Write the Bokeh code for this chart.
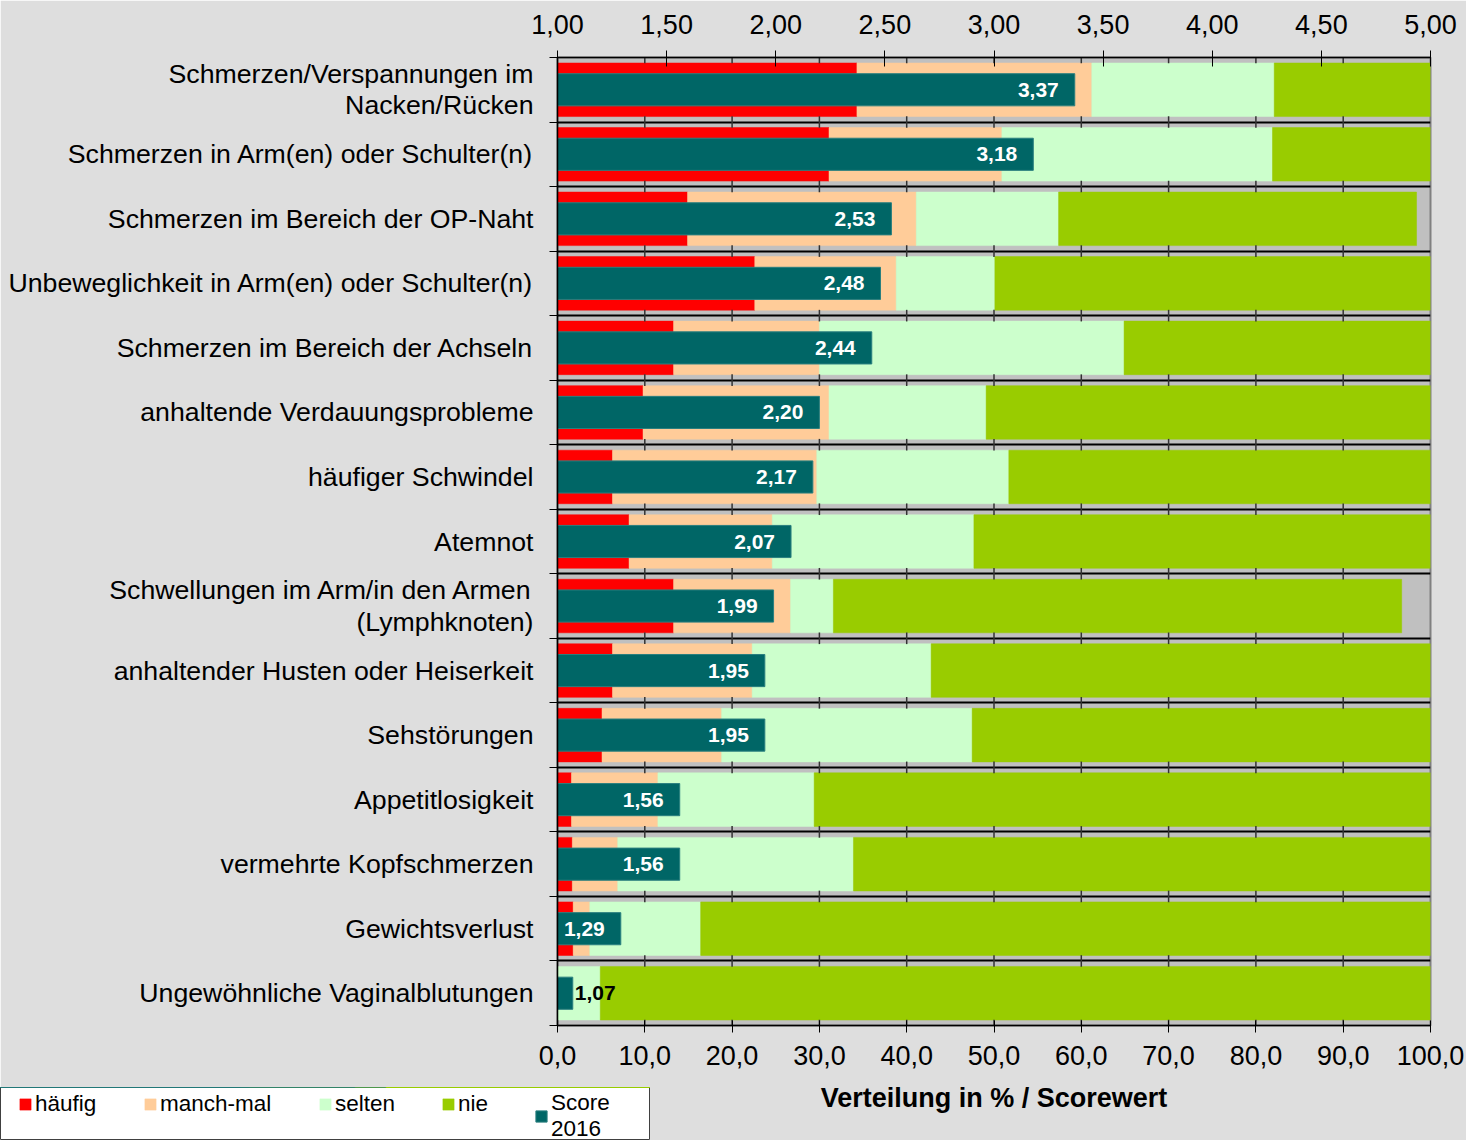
from bokeh.plotting import figure
from bokeh.layouts import column, row
from bokeh.models import (Range1d, LinearAxis, FixedTicker, CustomJSTickFormatter,
                          ColumnDataSource, Legend, LegendItem)
from bokeh.core.properties import value
from bokeh.embed import file_html
from bokeh.resources import INLINE

categories = [
    "Schmerzen/Verspannungen im\nNacken/Rücken",
    "Schmerzen in Arm(en) oder Schulter(n)",
    "Schmerzen im Bereich der OP-Naht",
    "Unbeweglichkeit in Arm(en) oder Schulter(n)",
    "Schmerzen im Bereich der Achseln",
    "anhaltende Verdauungsprobleme",
    "häufiger Schwindel",
    "Atemnot",
    "Schwellungen im Arm/in den Armen\n(Lymphknoten)",
    "anhaltender Husten oder Heiserkeit",
    "Sehstörungen",
    "Appetitlosigkeit",
    "vermehrte Kopfschmerzen",
    "Gewichtsverlust",
    "Ungewöhnliche Vaginalblutungen",
]
haeufig = [34.3, 31.1, 14.9, 22.6, 13.3, 9.8, 6.3, 8.2, 13.3, 6.3, 5.1, 1.6, 1.7, 1.8, 0.0]
manchmal = [26.9, 19.8, 26.2, 16.2, 16.7, 21.3, 23.4, 16.4, 13.4, 16.0, 13.7, 9.9, 5.2, 1.9, 0.0]
selten = [20.9, 31.0, 16.3, 11.3, 34.9, 18.0, 22.0, 23.1, 4.9, 20.5, 28.7, 17.9, 27.0, 12.7, 4.9]
nie = [17.9, 18.1, 41.0, 49.9, 35.1, 50.9, 48.3, 52.3, 65.1, 57.2, 52.5, 70.6, 66.1, 83.6, 95.1]
score_2016 = [3.37, 3.18, 2.53, 2.48, 2.44, 2.20, 2.17, 2.07, 1.99, 1.95, 1.95, 1.56, 1.56, 1.29, 1.07]

series_names = ["häufig", "manch-mal", "selten", "nie"]
series_colors = ["#ff0000", "#ffcc99", "#ccffcc", "#99cc00"]
score_name = "Score\n2016"
score_color = "#006666"

pct_ticks = [0, 10, 20, 30, 40, 50, 60, 70, 80, 90, 100]
score_ticks = [1.0, 1.5, 2.0, 2.5, 3.0, 3.5, 4.0, 4.5, 5.0]

FONT = "Liberation Sans"
BG = "#dedede"
n = len(categories)
ypos = list(range(n))
boundaries = [i - 0.5 for i in range(n + 1)]


def stack(fig, bar_height):
    """Draw the stacked percentage bars and score bars on a figure."""
    rs = []
    left = [0.0] * n
    for vals, col in zip([haeufig, manchmal, selten, nie], series_colors):
        right = [l + v for l, v in zip(left, vals)]
        rs.append(fig.hbar(y=ypos, left=left, right=right, height=bar_height,
                           fill_color=col, line_color=col, line_width=0.5))
        left = right
    rs.append(fig.hbar(y=ypos, left=1, right=score_2016, height=bar_height * 0.6,
                       fill_color=score_color, line_color="#2a7f7f", line_width=1,
                       x_range_name="score"))
    return rs


p = figure(width=1466, height=1140,
           x_range=Range1d(0, 100), y_range=Range1d(n - 0.5, -0.5),
           output_backend="svg", toolbar_location=None,
           min_border_left=557, min_border_right=36, min_border_top=57, min_border_bottom=115,
           background_fill_color="#c0c0c0", border_fill_color=BG,
           outline_line_color="#808080", outline_line_width=2)
p.extra_x_ranges = {"score": Range1d(1, 5)}

# grid: category boundaries only
p.xgrid.visible = False
p.ygrid.ticker = FixedTicker(ticks=boundaries)
p.ygrid.grid_line_color = "#000000"
p.ygrid.grid_line_width = 2

stack(p, 0.83)

# small tick marks at each boundary
seg_x = [x for b in boundaries for x in pct_ticks[1:-1]]
seg_y0 = [b - 0.09 for b in boundaries for _ in pct_ticks[1:-1]]
seg_y1 = [b + 0.09 for b in boundaries for _ in pct_ticks[1:-1]]
p.segment(x0=seg_x, x1=seg_x, y0=seg_y0, y1=seg_y1, line_color="#333333", line_width=1.5)

inside = [s >= 1.2 for s in score_2016]
lab_src = ColumnDataSource(dict(
    x=score_2016, y=ypos,
    text=[f"{s:.2f}".replace(".", ",") for s in score_2016],
    align=["right" if i else "left" for i in inside],
    xoff=[-16 if i else 2 for i in inside],
    color=["#ffffff" if i else "#000000" for i in inside],
))
p.text(x="x", y="y", text="text", source=lab_src, x_range_name="score",
       text_align="align", x_offset="xoff", text_color="color",
       text_baseline="middle", text_font=value(FONT), text_font_size="21px",
       text_font_style="bold")

# left axis (categories)
ya = p.yaxis[0]
ya.ticker = FixedTicker(ticks=ypos, minor_ticks=boundaries)
ya.major_label_overrides = {i: c for i, c in enumerate(categories)}
ya.major_tick_out = 0
ya.major_tick_in = 0
ya.minor_tick_out = 8
ya.minor_tick_in = 0
ya.minor_tick_line_color = "#000000"
ya.axis_line_color = "#000000"
ya.axis_line_width = 1.5
ya.major_label_standoff = 16
ya.major_label_text_font = FONT
ya.major_label_text_font_size = "26.7px"
ya.major_label_text_line_height = 1.04
ya.major_label_text_color = "#000000"

# bottom axis (percent)
xa = p.xaxis[0]
xa.ticker = FixedTicker(ticks=pct_ticks)
xa.formatter = CustomJSTickFormatter(code="return tick.toFixed(1).replace('.', ',')")
xa.major_tick_in = 5
xa.major_tick_out = 7
xa.minor_tick_line_color = None
xa.axis_line_color = "#000000"
xa.axis_line_width = 1.5
xa.major_tick_line_color = "#000000"
xa.major_label_standoff = 13
xa.major_label_text_font = FONT
xa.major_label_text_font_size = "27px"
xa.major_label_text_color = "#000000"
xa.axis_label = "Verteilung in % / Scorewert"
xa.axis_label_text_font = FONT
xa.axis_label_text_font_size = "27px"
xa.axis_label_text_font_style = "bold"
xa.axis_label_text_color = "#000000"
xa.axis_label_standoff = 15

# top axis (score)
ta = LinearAxis(x_range_name="score", ticker=FixedTicker(ticks=score_ticks),
                formatter=CustomJSTickFormatter(code="return tick.toFixed(2).replace('.', ',')"))
ta.major_tick_in = 9
ta.major_tick_out = 7
ta.minor_tick_line_color = None
ta.axis_line_color = "#000000"
ta.axis_line_width = 1.5
ta.major_tick_line_color = "#000000"
ta.major_label_standoff = 17
ta.major_label_text_font = FONT
ta.major_label_text_font_size = "27px"
ta.major_label_text_color = "#000000"
p.add_layout(ta, "above")

# legend panel (overlaps the bottom-left corner of the chart); the same series are
# drawn there outside its visible range so that the legend has glyphs to show
lg = figure(width=650, height=53, output_backend="svg", toolbar_location=None,
            x_range=Range1d(0, 100), y_range=Range1d(-3, -2),
            min_border_left=0, min_border_right=0, min_border_top=0, min_border_bottom=0,
            background_fill_color="#ffffff", border_fill_color=BG,
            outline_line_color="#404040", outline_line_width=1)
lg.extra_x_ranges = {"score": Range1d(1, 5)}
lg.axis.visible = False
lg.grid.visible = False
lg_renderers = stack(lg, 0.83)

legend_x = [18, 143, 318, 441, 534]
all_names = series_names + [score_name]
for nm, rr, lx in zip(all_names, lg_renderers, legend_x):
    two = "\n" in nm
    leg = Legend(items=[LegendItem(label=nm, renderers=[rr])],
                 location=(lx, -2 if two else 23), orientation="horizontal",
                 label_text_font=FONT, label_text_font_size="22.5px", label_text_color="#000000",
                 label_text_line_height=1.0,
                 glyph_width=14, glyph_height=14, label_standoff=3,
                 padding=0, margin=0, border_line_color=None, background_fill_alpha=0.0)
    lg.add_layout(leg)

layout = column(p, row(lg, margin=(-53, 0, 0, 0)), spacing=0)
open("out.html", "w").write(file_html(layout, INLINE))
